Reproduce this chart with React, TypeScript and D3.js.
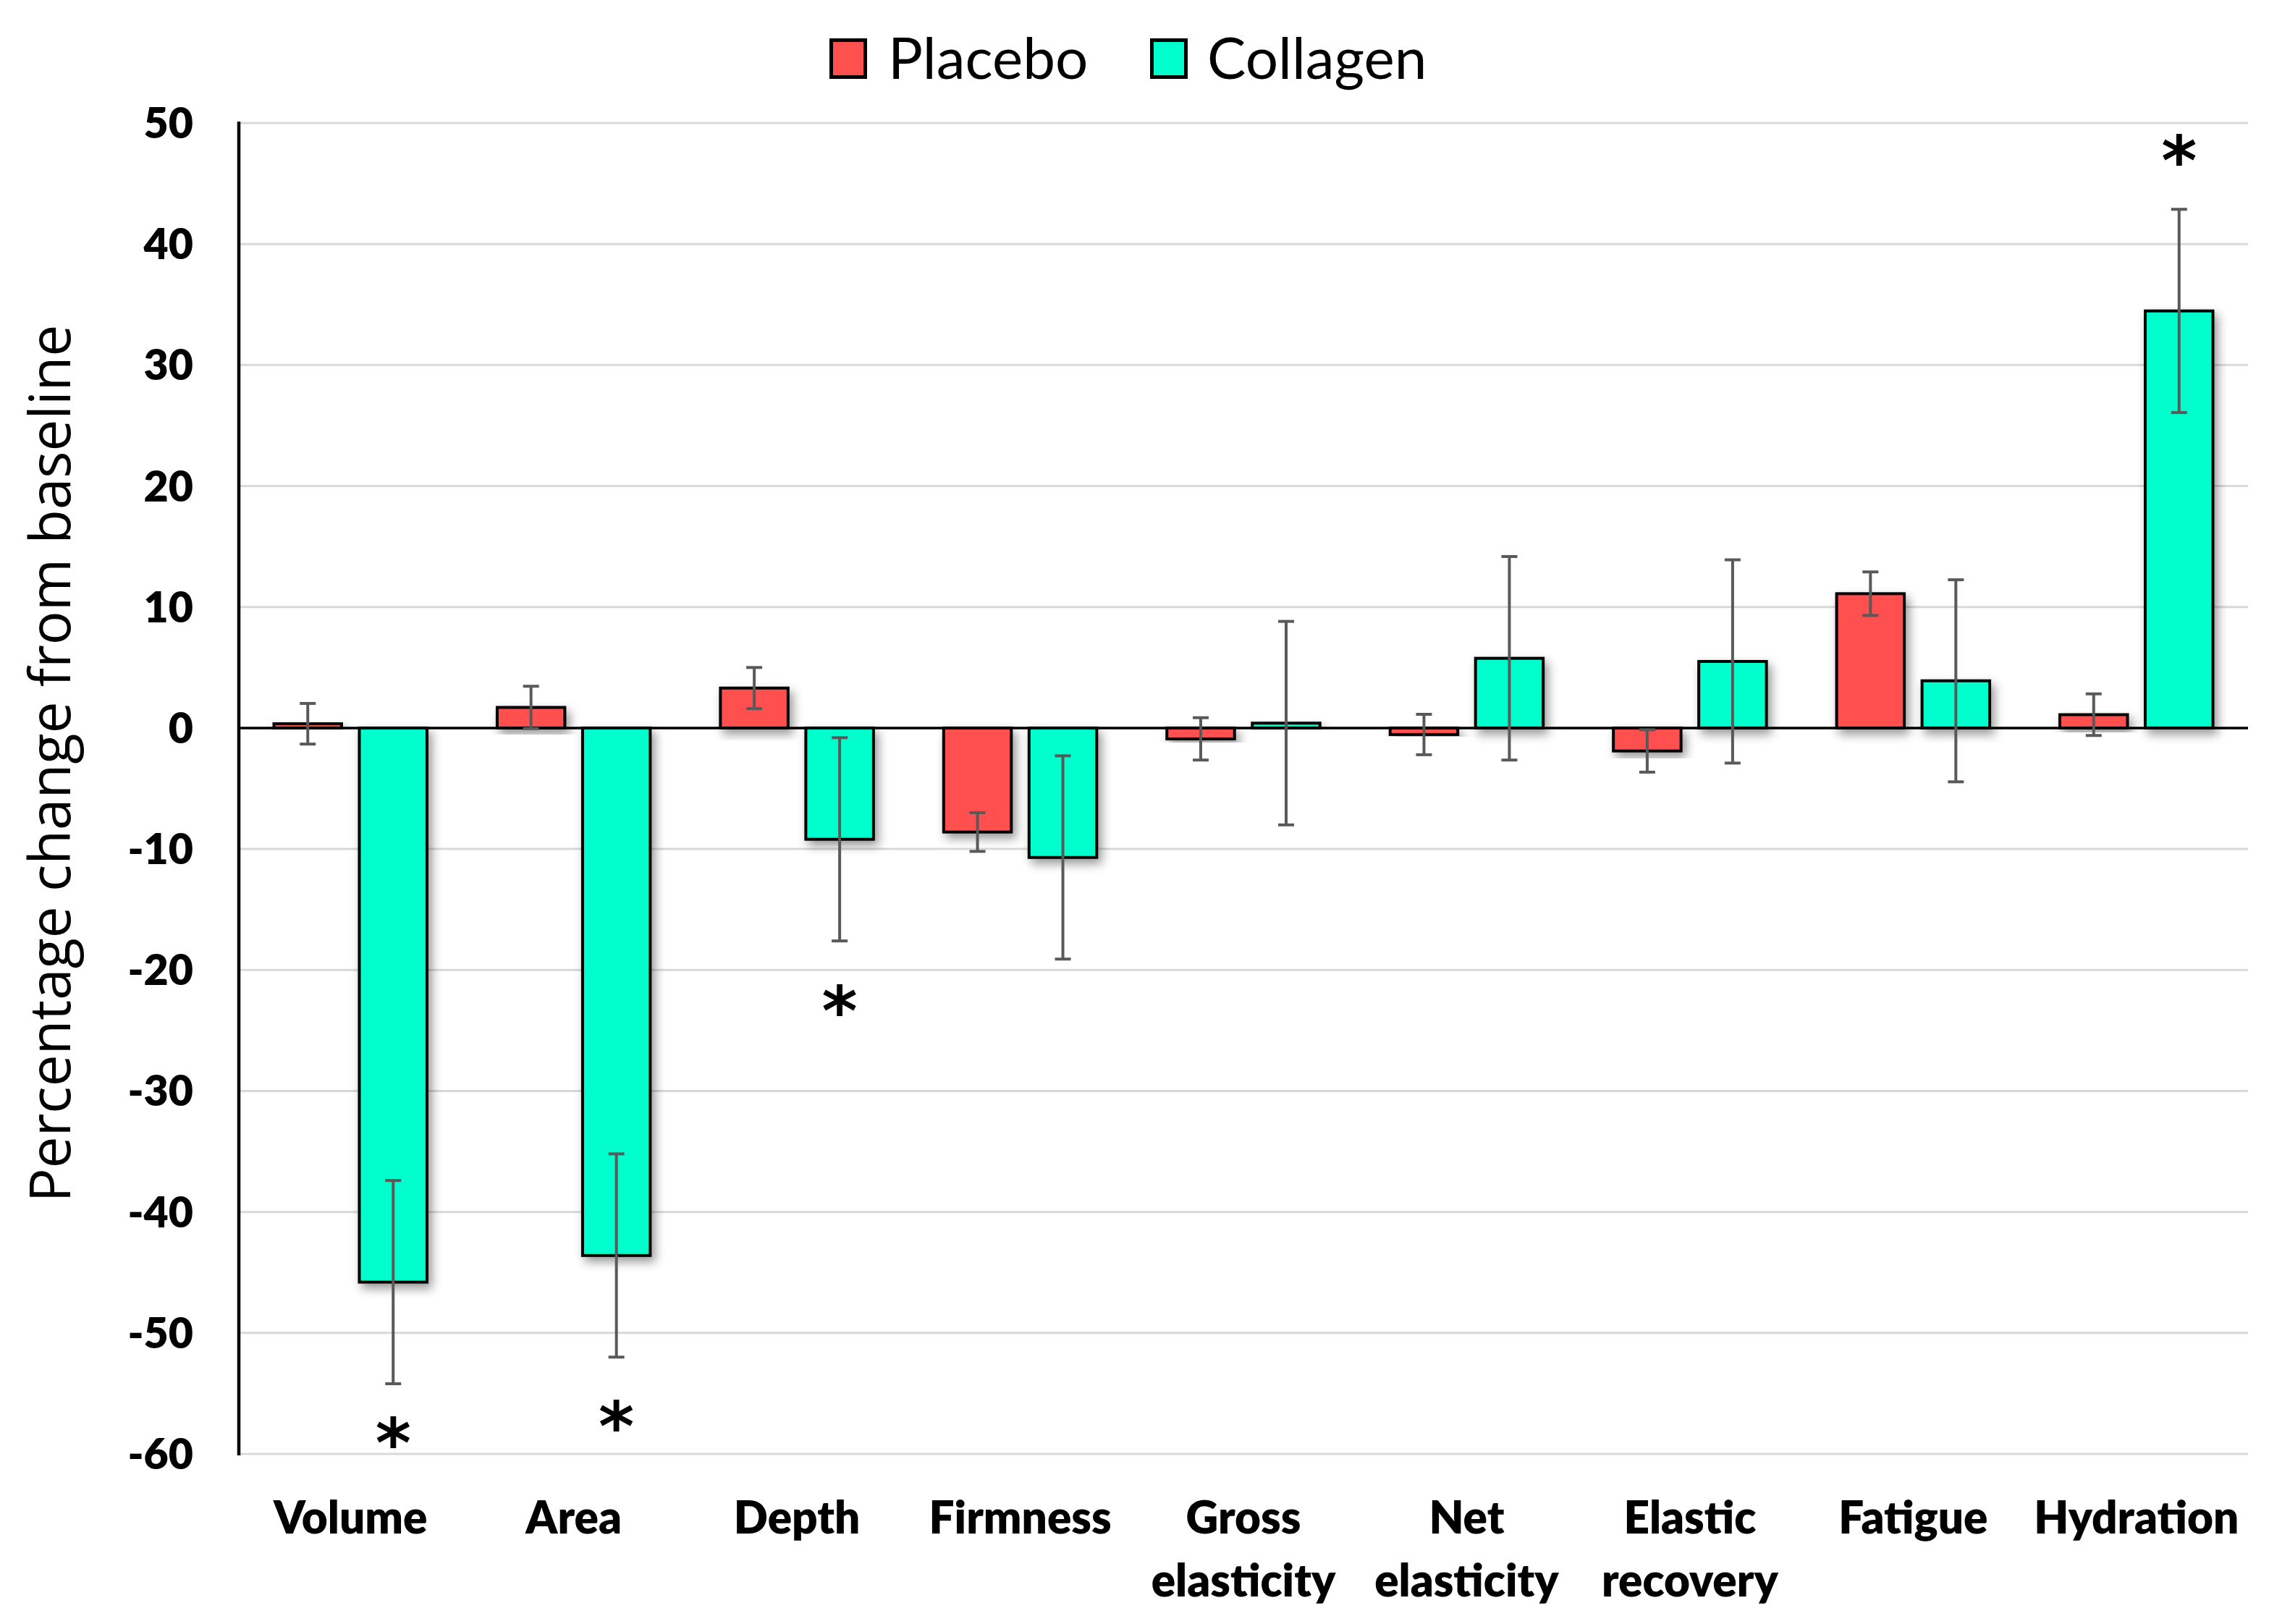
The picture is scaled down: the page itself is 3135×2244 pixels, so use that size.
import React from "react";
import * as d3 from "d3";

const categories = ["Volume", "Area", "Depth", "Firmness", "Gross elasticity", "Net elasticity", "Elastic recovery", "Fatigue", "Hydration"];
const categoryLines = [["Volume"], ["Area"], ["Depth"], ["Firmness"], ["Gross", "elasticity"], ["Net", "elasticity"], ["Elastic", "recovery"], ["Fatigue"], ["Hydration"]];
const seriesNames = ["Placebo", "Collagen"];
const seriesColors = ["#FF5050", "#00FFCC"];
const placeboValues = [0.35, 1.7, 3.3, -8.6, -0.9, -0.54, -1.9, 11.1, 1.1];
const placeboErrors = [1.68, 1.75, 1.7, 1.6, 1.75, 1.67, 1.75, 1.8, 1.72];
const collagenValues = [-45.8, -43.6, -9.2, -10.7, 0.4, 5.76, 5.5, 3.9, 34.47];
const collagenErrors = [8.4, 8.4, 8.4, 8.4, 8.41, 8.41, 8.4, 8.35, 8.4];
const starCategories = ["Volume", "Area", "Depth", "Hydration"];
const starValues = [-57.8, -56.4, -22.1, 48.2];
const yTicks = [50, 40, 30, 20, 10, 0, -10, -20, -30, -40, -50, -60];
const yTitle = "Percentage change from baseline";

const W = 3135;
const H = 2244;

export default function App() {
  const x = d3.scaleBand<string>().domain(categories).range([330, 3106]).paddingInner(0).paddingOuter(0);
  const xs = d3.scaleBand<string>().domain(seriesNames).range([0, x.bandwidth()]).paddingInner(0.174).paddingOuter(0.394);
  const y = d3.scaleLinear().domain([-60, 50]).range([2009, 170]);

  const series = [
    { name: seriesNames[0], color: seriesColors[0], values: placeboValues, errors: placeboErrors },
    { name: seriesNames[1], color: seriesColors[1], values: collagenValues, errors: collagenErrors },
  ];
  const sw = 4;
  const capHalf = 11;
  const labelFont = "Lato, 'Open Sans', sans-serif";

  return (
    <svg width={W} height={H} viewBox={`0 0 ${W} ${H}`} style={{ position: "absolute", left: 0, top: 0, background: "#fff" }}>
      <defs>
        <filter id="shadow" x="-30%" y="-30%" width="160%" height="160%">
          <feDropShadow dx="5" dy="7" stdDeviation="7" floodColor="#000" floodOpacity="0.4" />
        </filter>
      </defs>
      <rect x={0} y={0} width={W} height={H} fill="#fff" />
      {yTicks.map((t) => (
        <line key={"g" + t} x1={330} x2={3106} y1={y(t)} y2={y(t)} stroke="#D9D9D9" strokeWidth={3} />
      ))}
      {yTicks.map((t) => (
        <text key={"t" + t} x={267} y={y(t) + 21} textAnchor="end" fontFamily={labelFont} fontWeight={800} fontSize={59} fill="#000">
          {t}
        </text>
      ))}
      {series.map((s) =>
        categories.map((c, i) => {
          const v = s.values[i];
          const x0 = (x(c) as number) + (xs(s.name) as number);
          const y0 = Math.min(y(v), y(0));
          const h = Math.abs(y(v) - y(0));
          return (
            <rect key={s.name + c} x={x0 + sw / 2} y={y0} width={xs.bandwidth() - sw} height={h} fill={s.color} stroke="#000" strokeWidth={sw} filter="url(#shadow)" />
          );
        })
      )}
      <line x1={330} x2={3106} y1={y(0)} y2={y(0)} stroke="#000" strokeWidth={3.5} />
      <line x1={330} x2={330} y1={y(50) - 2} y2={y(-60) + 2} stroke="#000" strokeWidth={4.5} />
      {series.map((s) =>
        categories.map((c, i) => {
          const cx = (x(c) as number) + (xs(s.name) as number) + xs.bandwidth() / 2;
          const hi = y(s.values[i] + s.errors[i]);
          const lo = y(s.values[i] - s.errors[i]);
          return (
            <g key={"e" + s.name + c} stroke="#595959" strokeWidth={4}>
              <line x1={cx} x2={cx} y1={hi} y2={lo} />
              <line x1={cx - capHalf} x2={cx + capHalf} y1={hi} y2={hi} />
              <line x1={cx - capHalf} x2={cx + capHalf} y1={lo} y2={lo} />
            </g>
          );
        })
      )}
      {starCategories.map((c, i) => {
        const cx = (x(c) as number) + (xs(seriesNames[1]) as number) + xs.bandwidth() / 2;
        return (
          <text key={"s" + c} x={cx} y={y(starValues[i]) + 55} textAnchor="middle" fontFamily="'DejaVu Sans', sans-serif" fontWeight={700} fontSize={94} fill="#000">
            *
          </text>
        );
      })}
      {categories.map((c, i) => {
        const cx = (x(c) as number) + x.bandwidth() / 2;
        return (
          <text key={"c" + c} x={cx} y={2119} textAnchor="middle" fontFamily={labelFont} fontWeight={800} fontSize={62} fill="#000">
            {categoryLines[i].map((ln, j) => (
              <tspan key={j} x={cx} y={2119 + j * 87}>
                {ln}
              </tspan>
            ))}
          </text>
        );
      })}
      <text transform="translate(97,1055) rotate(-90)" textAnchor="middle" fontFamily="'Open Sans', 'Noto Sans', sans-serif" fontSize={78} fill="#000">
        {yTitle}
      </text>
      <rect x={1148.5} y={55.5} width={47} height={51} fill={seriesColors[0]} stroke="#000" strokeWidth={5} />
      <text x={1227} y={109} fontFamily={labelFont} fontSize={80} fill="#000">{seriesNames[0]}</text>
      <rect x={1591.5} y={55.5} width={47} height={51} fill={seriesColors[1]} stroke="#000" strokeWidth={5} />
      <text x={1668} y={109} fontFamily={labelFont} fontSize={80} fill="#000">{seriesNames[1]}</text>
    </svg>
  );
}
